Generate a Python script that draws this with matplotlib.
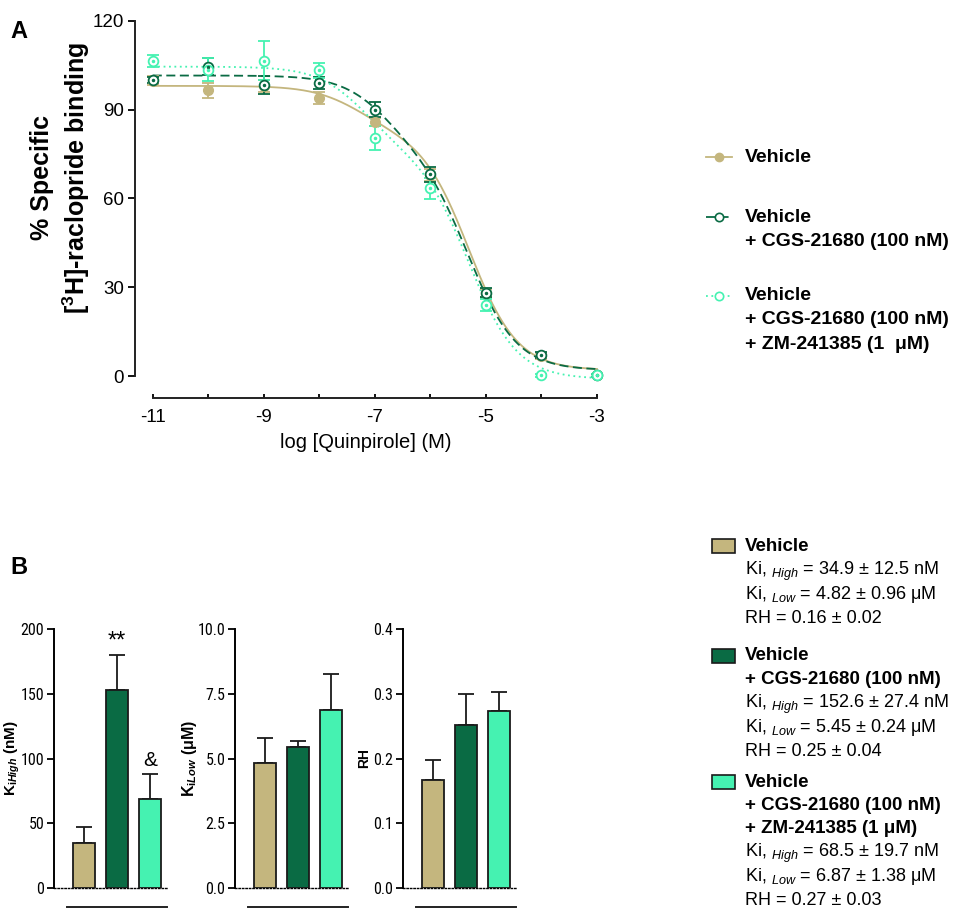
import numpy as np
import matplotlib
matplotlib.use("Agg")
import matplotlib.pyplot as plt
from matplotlib.patches import Rectangle
from matplotlib.lines import Line2D

plt.rcParams['font.family'] = ['Liberation Sans', 'DejaVu Sans']
plt.rcParams['axes.unicode_minus'] = False
plt.rcParams['mathtext.fontset'] = 'custom'
plt.rcParams['mathtext.rm'] = 'Liberation Sans'
plt.rcParams['mathtext.it'] = 'Liberation Sans:italic'
plt.rcParams['mathtext.bf'] = 'Liberation Sans:bold'
plt.rcParams['mathtext.bfit'] = 'Liberation Sans:bold:italic'

# --- colours ---
c_veh = '#C4B67E'
c_cgs = '#0A6B44'
c_zm = '#45F2B1'
colors = [c_veh, c_cgs, c_zm]

# --- panel A data ---
log_quin = [-11, -10, -9, -8, -7, -6, -5, -4, -3]
veh_mean = [99.8, 96.5, 98.0, 94.0, 85.8, 68.0, 28.0, 6.8, 0.2]
veh_err = [1.5, 2.5, 2.0, 2.0, 1.5, 2.0, 1.5, 1.0, 0.5]
cgs_mean = [100.0, 104.5, 98.3, 99.0, 90.0, 68.2, 28.2, 7.0, 0.2]
cgs_err = [1.0, 3.0, 3.0, 2.0, 2.5, 2.5, 1.5, 1.0, 0.5]
zm_mean = [106.4, 103.5, 106.5, 103.3, 80.3, 63.4, 24.0, 0.2, 0.2]
zm_err = [2.0, 4.0, 6.5, 2.5, 4.0, 3.5, 2.0, 0.5, 0.5]

# two-site fit parameters for the drawn curves
fit_top = [98.0, 101.5, 104.5]
fit_bottom = [2.0, 2.0, -1.0]
fit_frac_high = [0.16, 0.25, 0.27]
fit_log_high = [-7.3, -6.8, -7.2]
fit_log_low = [-5.3, -5.3, -5.3]

# --- panel B data ---
ki_high = [34.9, 152.6, 68.5]
ki_high_err = [12.5, 27.4, 19.7]
ki_low = [4.82, 5.45, 6.87]
ki_low_err = [0.96, 0.24, 1.38]
rh = [0.167, 0.252, 0.273]
rh_err = [0.031, 0.048, 0.029]

W, H = 963, 913
fig = plt.figure(figsize=(W / 100, H / 100), dpi=100)
narrow = ['Roboto Condensed', 'Liberation Sans Narrow', 'Liberation Sans']


def fx(px):
    return px / W


def fy(py):
    return 1 - py / H


# ================= Panel A =================
axA = fig.add_axes([fx(135), fy(398), fx(597 - 135), (398 - 20.7) / H])
axA.set_xlim(-11.32, -3)
axA.set_ylim(-7.4, 120)

xx = np.linspace(-11, -3, 400)
means = [veh_mean, cgs_mean, zm_mean]
errs = [veh_err, cgs_err, zm_err]
lstyles = ['-', (0, (5, 2.5)), (0, (1, 2))]
for i in range(3):
    f = fit_frac_high[i]
    yy = fit_bottom[i] + (fit_top[i] - fit_bottom[i]) * (
        f / (1 + 10 ** (xx - fit_log_high[i])) + (1 - f) / (1 + 10 ** (xx - fit_log_low[i])))
    axA.plot(xx, yy, color=colors[i], lw=1.3, ls=lstyles[i], zorder=2 + i * 0.1, clip_on=False)

for i in range(3):
    axA.errorbar(log_quin, means[i], yerr=errs[i], fmt='none', ecolor=colors[i],
                 elinewidth=1.3, capsize=4, capthick=1.3, zorder=3, clip_on=False)
axA.plot(log_quin, veh_mean, 'o', color=c_veh, ms=7, zorder=4, clip_on=False)
for i in (1, 2):
    axA.plot(log_quin, means[i], 'o', mfc='white', mec=colors[i], mew=1.3, ms=7, zorder=4, clip_on=False)
    axA.plot(log_quin, means[i], '.', color=colors[i], ms=3, zorder=5, clip_on=False)

for s in ['top', 'right']:
    axA.spines[s].set_visible(False)
axA.spines['left'].set_bounds(0, 120)
axA.spines['bottom'].set_bounds(-11, -3)
for s in ['left', 'bottom']:
    axA.spines[s].set_linewidth(1.4)
    axA.spines[s].set_color('#222222')
axA.set_yticks([0, 30, 60, 90, 120])
axA.set_xticks([-11, -9, -7, -5, -3])
axA.set_xticks([-10, -8, -6, -4], minor=True)
axA.tick_params(axis='y', direction='out', length=5, width=1.3, labelsize=13.5, pad=3)
axA.tick_params(axis='x', which='both', direction='in', length=3, width=1.3, labelsize=13.5, pad=8)
axA.set_xlabel('log [Quinpirole] (M)', fontsize=14.5, labelpad=5)

fig.text(fx(42), fy(178), '% Specific', rotation=90, ha='center', va='center',
         fontsize=18, fontweight='bold')
fig.text(fx(76), fy(178), r'[$^{\mathbf{3}}$H]-raclopride binding', rotation=90,
         ha='center', va='center', fontsize=18, fontweight='bold')
fig.text(fx(10), fy(32), 'A', fontsize=17, fontweight='bold', va='center')
fig.text(fx(10), fy(567), 'B', fontsize=17, fontweight='bold', va='center')

# legend A (hand placed)
legA_names = [['Vehicle'],
              ['Vehicle', '+ CGS-21680 (100 nM)'],
              ['Vehicle', '+ CGS-21680 (100 nM)', '+ ZM-241385 (1  μM)']]
legA_y = [157, 217, 296]
for i in range(3):
    y0 = legA_y[i]
    fig.add_artist(Line2D([fx(706), fx(732)], [fy(y0), fy(y0)], color=colors[i], lw=1.3,
                          ls=lstyles[i]))
    if i == 0:
        fig.add_artist(Line2D([fx(719)], [fy(y0)], marker='o', color=c_veh, ms=6))
    else:
        fig.add_artist(Line2D([fx(719)], [fy(y0)], marker='o', mfc='white', mec=colors[i],
                              mew=1.2, ms=6))
    for k, line in enumerate(legA_names[i]):
        fig.text(fx(745), fy(y0 + 24 * k), line, fontsize=14, fontweight='bold', va='center')

# ================= Panel B =================
bar_x = [0, 1, 2]
panels = [
    (54, ki_high, ki_high_err, 200, [0, 50, 100, 150, 200], '%d',
     r'$\mathbf{K}_{\mathbf{i}\mathbfit{High}}$ (nM)', 11, -0.285),
    (235, ki_low, ki_low_err, 10, [0, 2.5, 5.0, 7.5, 10.0], '%.1f',
     r'$\mathbf{K}_{\mathbf{i}\mathbfit{Low}}$ ($\mathbf{\mu}$M)', 11.5, -0.32),
    (403, rh, rh_err, 0.4, [0, 0.1, 0.2, 0.3, 0.4], '%.1f', 'RH', 10, -0.285),
]
axesB = []
for left, vals, errv, ymax, ticks, fmt, lab, labsize, labx in panels:
    ax = fig.add_axes([fx(left), fy(888), 113 / W, (888 - 629) / H])
    ax.bar(bar_x, vals, width=0.66, color=colors, edgecolor='#1a1a1a', lw=1.3, zorder=3)
    ax.errorbar(bar_x, vals, yerr=[[0, 0, 0], errv], fmt='none', ecolor='#1a1a1a',
                elinewidth=1.3, capsize=6, capthick=1.3, zorder=2)
    ax.set_xlim(-0.91, 2.52)
    ax.set_ylim(0, ymax)
    ax.set_xticks([])
    ax.set_yticks(ticks)
    ax.yaxis.set_major_formatter(plt.FormatStrFormatter(fmt))
    ax.tick_params(axis='y', direction='out', length=5, width=1.3, labelsize=11.5, pad=2)
    for t in ax.get_yticklabels():
        t.set_fontfamily(narrow)
    for s in ['top', 'right']:
        ax.spines[s].set_visible(False)
    ax.spines['left'].set_linewidth(1.4)
    ax.spines['bottom'].set_linestyle((0, (1, 1.5)))
    ax.spines['bottom'].set_linewidth(1.0)
    ax.set_ylabel(lab, fontsize=labsize, fontweight='bold')
    ax.yaxis.set_label_coords(labx, 0.5)
    ax.plot([-0.52, 2.52], [-0.073, -0.073], color='#222222', lw=1.4,
            transform=ax.get_xaxis_transform(), clip_on=False)
    axesB.append(ax)

axesB[0].text(1, ki_high[1] + ki_high_err[1] + 2, '**', ha='center', va='bottom', fontsize=17)
axesB[0].text(2, ki_high[2] + ki_high_err[2] + 3, '&', ha='center', va='bottom', fontsize=15)

# legend B (hand placed)
legB_blocks = [
    (['Vehicle'],
     [r'Ki, $_{\mathit{High}}$ = 34.9 ± 12.5 nM', r'Ki, $_{\mathit{Low}}$ = 4.82 ± 0.96 μM',
      'RH = 0.16 ± 0.02'], 546),
    (['Vehicle', '+ CGS-21680 (100 nM)'],
     [r'Ki, $_{\mathit{High}}$ = 152.6 ± 27.4 nM', r'Ki, $_{\mathit{Low}}$ = 5.45 ± 0.24 μM',
      'RH = 0.25 ± 0.04'], 656),
    (['Vehicle', '+ CGS-21680 (100 nM)', '+ ZM-241385 (1 μM)'],
     [r'Ki, $_{\mathit{High}}$ = 68.5 ± 19.7 nM', r'Ki, $_{\mathit{Low}}$ = 6.87 ± 1.38 μM',
      'RH = 0.27 ± 0.03'], 782),
]
for i, (bold_lines, plain_lines, y0) in enumerate(legB_blocks):
    fig.add_artist(Rectangle((fx(712), fy(y0 + 7)), 23 / W, 14 / H, facecolor=colors[i],
                             edgecolor='#1a1a1a', lw=1.2))
    y = y0
    for line in bold_lines:
        fig.text(fx(745), fy(y), line, fontsize=13.5, fontweight='bold', va='center')
        y += 23
    y += 2
    for line in plain_lines:
        fig.text(fx(745), fy(y), line, fontsize=13, va='center')
        y += 23.5

fig.savefig('out.png', dpi=100)
